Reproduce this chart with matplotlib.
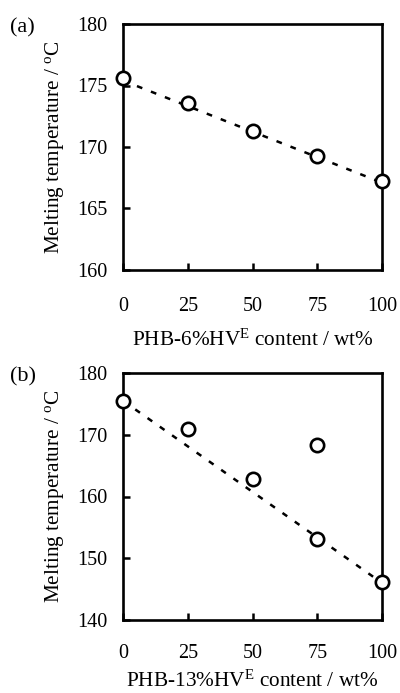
import matplotlib
matplotlib.use("Agg")
import matplotlib.pyplot as plt

plt.rcParams['font.family'] = ['Liberation Serif', 'DejaVu Serif']
plt.rcParams['mathtext.fontset'] = 'custom'
plt.rcParams['mathtext.rm'] = 'Liberation Serif'
plt.rcParams['mathtext.it'] = 'Liberation Serif:italic'

content = [0, 25, 50, 75, 100]
tm_a = [175.6, 173.6, 171.3, 169.3, 167.2]
fit_a_x = [0, 100]
fit_a_y = [175.4, 167.1]

content_b = [0, 25, 50, 75, 75, 100]
tm_b = [175.5, 171.0, 162.9, 168.3, 153.1, 146.2]
fit_b_x = [0, 100]
fit_b_y = [175.5, 146.0]

xticks = [0, 25, 50, 75, 100]
yticks_a = [160, 165, 170, 175, 180]
yticks_b = [140, 150, 160, 170, 180]

fig = plt.figure(figsize=(4.0, 6.93), dpi=100)
ax_a = fig.add_axes([0.3075, 1 - 270 / 693, 0.6475, 246 / 693])
ax_b = fig.add_axes([0.3075, 1 - 620 / 693, 0.6475, 247 / 693])

def style(ax, x, y, fx, fy, yt, xlabel, tag, xpad, lpad):
    ax.plot(fx, fy, color='black', lw=1.8, ls=(0, (2.3, 3.7)), zorder=2)
    ax.plot(x, y, ls='none', marker='o', ms=9.6, mfc='white', mec='black', mew=1.9,
            clip_on=False, zorder=3)
    ax.set_xlim(0, 100)
    ax.set_ylim(yt[0], yt[-1])
    ax.set_xticks(xticks)
    ax.set_yticks(yt)
    ax.tick_params(direction='in', length=5, width=1.8, labelsize=14.5)
    ax.tick_params(axis='x', pad=xpad, top=False)
    ax.tick_params(axis='y', pad=11.5, right=False)
    for s in ax.spines.values():
        s.set_linewidth(1.9)
    ax.set_ylabel('Melting temperature / $^{\\mathrm{o}}$C', fontsize=15.3, labelpad=8)
    ax.set_xlabel(xlabel, fontsize=15.3, labelpad=lpad)
    ax.text(-0.388, 0.985, tag, transform=ax.transAxes, fontsize=16, ha='center', va='center')

style(ax_a, content, tm_a, fit_a_x, fit_a_y, yticks_a,
      'PHB-6%HV$^{\\mathrm{E}}$ content / wt%', '(a)', 19.5, 9.5)
style(ax_b, content_b, tm_b, fit_b_x, fit_b_y, yticks_b,
      'PHB-13%HV$^{\\mathrm{E}}$ content / wt%', '(b)', 17.5, 5.0)

fig.savefig('out.png', dpi=100)
